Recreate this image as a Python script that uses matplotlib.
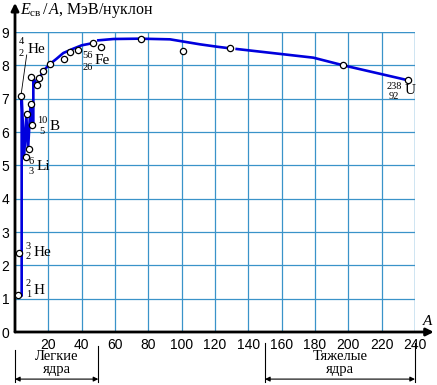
import numpy as np
import matplotlib.pyplot as plt

plt.rcParams['mathtext.fontset'] = 'custom'
plt.rcParams['mathtext.rm'] = 'Liberation Serif'
plt.rcParams['mathtext.it'] = 'Liberation Serif:italic'

# Точки (массовое число A, энергия связи на нуклон, МэВ)
point_A = [2, 2.6, 3.6, 6.4, 7.0, 8.4, 9.6, 9.6, 10.0, 13.4, 14.6, 17.0, 21.0,
           29.4, 33.0, 38.0, 47.0, 51.6, 75.6, 101, 129, 197, 236]
point_E = [1.11, 2.38, 7.08, 5.26, 6.54, 5.49, 7.66, 6.83, 6.21, 7.41, 7.61, 7.84, 8.04,
           8.20, 8.39, 8.47, 8.66, 8.54, 8.78, 8.42, 8.51, 8.00, 7.55]

# Сглаженная кривая (nan = разрыв линии)
curve_A = [4, 4, 5.5, 6.8, 7.8, 9.3, 10.4, 11, 11, 13.4, 14.6, 17, 21, 25, 29, 35, 40, 47,
           np.nan, 50, 59, 75, 93, 111, 121, 129, np.nan, 133, 179, 197, 236]
curve_E = [1.1, 7.07, 5.3, 6.5, 5.45, 6.8, 6.25, 6.3, 7.62, 7.41, 7.6, 7.84, 8.04, 8.2, 8.37,
           8.5, 8.6, 8.67, np.nan, 8.75, 8.79, 8.8, 8.78, 8.63, 8.56, 8.51, np.nan, 8.49,
           8.23, 8.0, 7.55]

x_ticks = list(range(20, 241, 20))
y_ticks = list(range(0, 10))

# подписи ядер: символ, A, Z
nuclides = ['He', 'B', 'Li', 'Fe', 'He', 'H', 'U']
mass_num = ['4', '10', '6', '56', '3', '2', '238']
charge_num = ['2', '5', '3', '26', '2', '1', '92']

grid_color = '#3a93c9'
blue = '#0000dd'

fig = plt.figure(figsize=(4.37, 3.85), dpi=100)
ax = fig.add_axes([15 / 437, 53 / 385, 400 / 437, 300 / 385])

ax.set_xlim(0, 240)
ax.set_ylim(0, 9)
ax.set_xticks(x_ticks)
ax.set_yticks(y_ticks)
ax.grid(True, color=grid_color, lw=0.9)
ax.tick_params(length=0, labelsize=10, pad=4)
for lab in ax.get_xticklabels() + ax.get_yticklabels():
    lab.set_family('Liberation Sans')
for s in ax.spines.values():
    s.set_visible(False)
ax.axvline(240, color=grid_color, lw=0.9)
ax.axhline(9, color=grid_color, lw=0.9)

ax.plot(curve_A, curve_E, color=blue, lw=1.9, zorder=3)
ax.plot(point_A, point_E, 'o', ms=4.5, mfc='white', mec='black', mew=0.9, zorder=4)

# оси со стрелками
arr = dict(arrowstyle='-|>', lw=2, color='black', mutation_scale=11, shrinkA=0, shrinkB=0)
ax.annotate('', xy=(0, 1.097), xytext=(0, 0), xycoords='axes fraction',
            arrowprops=arr, annotation_clip=False)
ax.annotate('', xy=(1.047, 0), xytext=(0, 0), xycoords='axes fraction',
            arrowprops=arr, annotation_clip=False)

ax.text(0.0125, 1.073, r'$E_{\mathrm{св}}\,/\,A$, МэВ/нуклон', transform=ax.transAxes,
        family='Liberation Serif', fontsize=11.5, ha='left', va='center')
ax.text(1.0325, 0.035, 'A', transform=ax.transAxes, family='Liberation Serif',
        style='italic', fontsize=11, ha='center', va='center')

# подписи ядер
sym_pos = [(7.8, 8.49), (21, 6.18), (13, 4.96), (48, 8.16), (11.4, 2.38), (11.4, 1.26), (234, 7.24)]
num_pos = [(3.6, 8.71, 8.37), (16.2, 6.36, 6.01), (9.4, 5.11, 4.81), (43.6, 8.29, 7.94),
           (8, 2.58, 2.26), (8, 1.46, 1.13), (227.5, 7.36, 7.06)]
for i in range(len(nuclides)):
    sx, sy = sym_pos[i]
    nx, ny1, ny2 = num_pos[i]
    ax.text(sx, sy, nuclides[i], family='Liberation Serif', fontsize=11,
            ha='left', va='center', zorder=5)
    ax.text(nx, ny1, mass_num[i], family='Liberation Serif', fontsize=7.5,
            ha='center', va='center', zorder=5)
    ax.text(nx, ny2, charge_num[i], family='Liberation Serif', fontsize=7.5,
            ha='center', va='center', zorder=5)
ax.plot([7, 3.6], [8.31, 7.1], color='black', lw=0.6, zorder=2)

# области лёгких и тяжёлых ядер
tr = ax.get_xaxis_transform()
for x0, x1, top0, top1, t1, t2 in [(0, 50, -0.06, -0.045, 'Легкие', 'ядра'),
                                   (150, 240, -0.037, -0.037, 'Тяжелые', 'ядра')]:
    ax.plot([x0, x0], [top0, -0.167], color='black', lw=0.8, transform=tr, clip_on=False)
    ax.plot([x1, x1], [top1, -0.167], color='black', lw=0.8, transform=tr, clip_on=False)
    ax.annotate('', xy=(x1, -0.157), xytext=(x0, -0.157), xycoords=tr,
                arrowprops=dict(arrowstyle='<|-|>', lw=0.8, color='black',
                                mutation_scale=7, shrinkA=0, shrinkB=0),
                annotation_clip=False)
    ax.text((x0 + x1) / 2, -0.082, t1, transform=tr, family='Liberation Serif',
            fontsize=10.5, ha='center', va='center')
    ax.text((x0 + x1) / 2, -0.125, t2, transform=tr, family='Liberation Serif',
            fontsize=10.5, ha='center', va='center')

fig.savefig('out.png', dpi=100)
